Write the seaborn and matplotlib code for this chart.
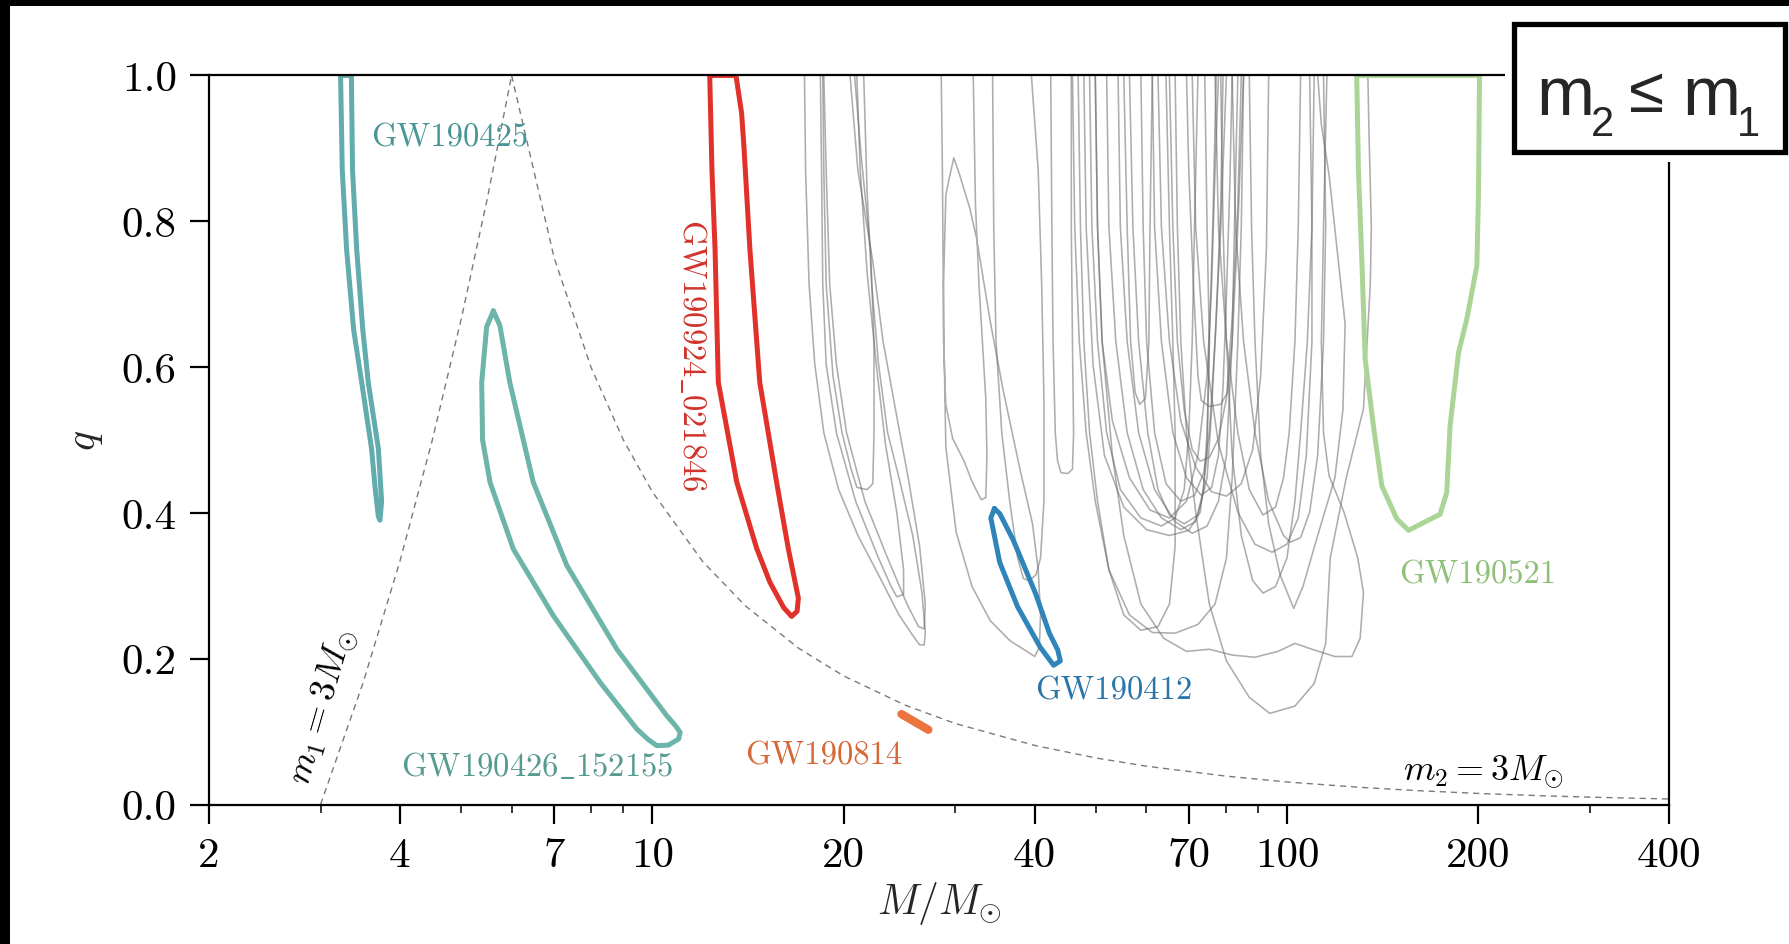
import numpy as np
import pandas as pd
import matplotlib
matplotlib.use("Agg")
import matplotlib.pyplot as plt
import seaborn as sns
from matplotlib.patches import Rectangle
from matplotlib.ticker import FixedLocator, NullFormatter

# ---------------- data (total mass M in solar masses, mass ratio q) ----------------
x_ticks = [2, 4, 7, 10, 20, 40, 70, 100, 200, 400]
x_tick_labels = ["2", "4", "7", "10", "20", "40", "70", "100", "200", "400"]
x_minor = [3, 5, 6, 8, 9, 30, 50, 60, 80, 90, 300]
y_ticks = [0.0, 0.2, 0.4, 0.6, 0.8, 1.0]
y_tick_labels = ["0.0", "0.2", "0.4", "0.6", "0.8", "1.0"]

# boundary lines m1 = 3 Msun and m2 = 3 Msun
m1_line_M = [3.0, 3.5, 4.0, 4.5, 5.0, 5.5, 6.0]
m1_line_q = [0.0, 0.1667, 0.3333, 0.5, 0.6667, 0.8333, 1.0]
m2_line_M = [6, 7, 8, 9, 10, 12, 14, 17, 20, 25, 30, 40, 50, 60, 80, 100, 130, 160, 200, 250, 300, 400]
m2_line_q = [1.0, 0.75, 0.6, 0.5, 0.4286, 0.3333, 0.2727, 0.2143, 0.1765, 0.1364, 0.1111, 0.0811,
             0.0638, 0.0526, 0.0390, 0.0309, 0.0236, 0.0191, 0.0152, 0.0121, 0.0101, 0.00756]

# highlighted events (90% contours)
gw190425_M = [3.226, 3.246, 3.297, 3.383, 3.483, 3.610, 3.659, 3.700, 3.721, 3.744, 3.700, 3.567,
              3.497, 3.420, 3.369, 3.355, 3.226]
gw190425_q = [1.0, 0.870, 0.762, 0.651, 0.579, 0.488, 0.432, 0.395, 0.390, 0.416, 0.488, 0.579,
              0.651, 0.762, 0.870, 1.0, 1.0]

gw190426_M = [5.615, 5.48, 5.383, 5.40, 5.548, 6.037, 6.98, 8.27, 9.45, 9.85, 10.16, 10.6, 11.0, 11.06,
              10.85, 10.53, 8.79, 7.33, 6.49, 5.96, 5.75, 5.615]
gw190426_q = [0.677, 0.655, 0.579, 0.50, 0.442, 0.3505, 0.259, 0.1676, 0.1036, 0.089, 0.0808, 0.0815,
              0.090, 0.099, 0.109, 0.122, 0.213, 0.328, 0.442, 0.579, 0.657, 0.677]

gw190924_M = [12.31, 12.41, 12.55, 12.70, 13.58, 14.60, 15.31, 16.10, 16.57, 16.90, 16.98, 16.37,
              15.69, 14.76, 14.24, 13.94, 13.82, 13.54, 12.31]
gw190924_q = [1.0, 0.870, 0.762, 0.579, 0.442, 0.351, 0.305, 0.270, 0.258, 0.265, 0.283, 0.351,
              0.442, 0.579, 0.762, 0.901, 0.948, 1.0, 1.0]

gw190412_M = [34.57, 34.13, 35.25, 37.62, 40.81, 42.86, 43.92, 43.50, 42.2, 40.16, 37.01, 35.25, 34.57]
gw190412_q = [0.406, 0.393, 0.332, 0.271, 0.216, 0.191, 0.197, 0.212, 0.235, 0.289, 0.363, 0.399, 0.406]

gw190814_M = [24.68, 27.21]
gw190814_q = [0.124, 0.1025]

gw190521_M = [128.7, 129.5, 131.1, 132.7, 136.7, 140.97, 148.8, 155.3, 166.0, 174.1, 178.4, 180.6,
              186.2, 191.9, 199.0, 200.2, 200.9, 128.7]
gw190521_q = [1.0, 0.870, 0.748, 0.611, 0.520, 0.437, 0.392, 0.376, 0.389, 0.398, 0.428, 0.520,
              0.620, 0.666, 0.739, 0.840, 1.0, 1.0]

# other events (grey background contours)
bg01_M = [17.36, 17.43, 17.65, 18.02, 18.62, 19.65, 21.07, 22.71, 24.46, 25.71, 26.36, 26.80, 26.91,
          26.58, 25.71, 24.46, 23.47, 22.71, 22.15, 21.79, 21.52]
bg01_q = [1.0, 0.870, 0.714, 0.604, 0.510, 0.432, 0.369, 0.315, 0.260, 0.232, 0.219, 0.219, 0.236,
          0.291, 0.369, 0.448, 0.510, 0.604, 0.714, 0.839, 1.0]
bg02_M = [18.39, 18.47, 18.55, 18.78, 19.49, 20.90, 22.71, 23.77, 24.26, 24.87, 24.87, 24.26, 23.28,
          22.52, 21.79, 21.25, 20.99]
bg02_q = [1.0, 0.870, 0.714, 0.604, 0.510, 0.416, 0.338, 0.299, 0.285, 0.288, 0.322, 0.401, 0.495,
          0.604, 0.729, 0.870, 1.0]
bg03_M = [18.55, 18.62, 18.78, 19.25, 19.89, 20.56, 20.99, 21.79, 22.24, 22.34, 22.34, 22.06, 21.34, 20.82]
bg03_q = [1.0, 0.870, 0.714, 0.588, 0.510, 0.460, 0.435, 0.432, 0.440, 0.510, 0.635, 0.761, 0.886, 1.0]
bg04_M = [18.62, 18.78, 19.02, 19.49, 20.22, 21.61, 23.47, 25.18, 26.25, 26.80, 26.91, 26.36, 25.29,
          24.16, 23.09, 22.24, 21.07, 20.48]
bg04_q = [1.0, 0.870, 0.714, 0.604, 0.510, 0.416, 0.338, 0.275, 0.244, 0.241, 0.275, 0.354, 0.448,
          0.541, 0.635, 0.745, 0.870, 1.0]
bg05_M = [28.51, 28.63, 28.75, 28.99, 30.09, 31.88, 34.07, 36.55, 38.89, 40.03, 40.70, 40.87, 40.53,
          39.70, 37.93, 35.66, 34.07, 32.42, 31.62, 30.47, 29.84, 29.35, 28.99, 28.75, 28.75, 28.99,
          29.72, 30.97, 31.88, 32.96, 33.51, 33.65, 33.51, 33.10, 32.69, 32.28, 32.02]
bg05_q = [1.0, 0.870, 0.662, 0.490, 0.374, 0.299, 0.252, 0.225, 0.210, 0.203, 0.216, 0.260, 0.322,
          0.385, 0.460, 0.570, 0.662, 0.776, 0.818, 0.864, 0.887, 0.859, 0.836, 0.714, 0.635, 0.548,
          0.502, 0.471, 0.443, 0.418, 0.421, 0.479, 0.557, 0.635, 0.714, 0.823, 1.0]
bg06_M = [34.35, 34.49, 34.78, 35.51, 36.55, 37.62, 38.41, 39.21, 40.20, 40.87, 41.38, 41.38, 41.04,
          40.53, 39.54]
bg06_q = [1.0, 0.792, 0.635, 0.510, 0.416, 0.338, 0.310, 0.307, 0.315, 0.338, 0.416, 0.557, 0.714,
          0.870, 1.0]
bg07_M = [42.41, 42.59, 42.77, 43.12, 43.48, 44.03, 45.13, 45.89, 46.08, 45.89, 45.70, 45.70]
bg07_q = [1.0, 0.792, 0.635, 0.510, 0.471, 0.455, 0.454, 0.460, 0.510, 0.635, 0.792, 1.0]
bg08_M = [46.85, 47.24, 47.83, 48.83, 50.26, 52.38, 55.28, 58.82, 62.59, 65.24, 66.60, 66.60, 66.05,
          65.24, 64.43]
bg08_q = [1.0, 0.792, 0.635, 0.510, 0.416, 0.322, 0.260, 0.239, 0.244, 0.275, 0.354, 0.510, 0.635,
          0.792, 1.0]
bg09_M = [48.83, 49.24, 50.26, 51.95, 54.60, 58.82, 63.37, 66.60, 68.84, 69.98, 70.86, 71.45, 72.35]
bg09_q = [1.0, 0.792, 0.635, 0.510, 0.432, 0.393, 0.382, 0.393, 0.432, 0.510, 0.635, 0.792, 1.0]
bg10_M = [49.85, 50.26, 51.10, 53.04, 56.44, 60.80, 65.24, 69.41, 72.35, 74.78, 76.03, 76.98, 77.94]
bg10_q = [1.0, 0.792, 0.635, 0.526, 0.448, 0.404, 0.393, 0.416, 0.479, 0.588, 0.714, 0.870, 1.0]
bg11_M = [55.28, 55.97, 56.67, 57.62, 58.58, 59.80, 60.55, 60.80, 61.31]
bg11_q = [1.0, 0.792, 0.635, 0.565, 0.549, 0.557, 0.635, 0.792, 1.0]
bg12_M = [51.95, 52.38, 53.71, 55.97, 59.31, 63.37, 67.99, 71.75, 73.86, 74.78, 75.40, 76.34, 77.30]
bg12_q = [1.0, 0.792, 0.635, 0.510, 0.432, 0.393, 0.377, 0.388, 0.432, 0.510, 0.635, 0.792, 1.0]
bg13_M = [58.82, 59.31, 60.05, 61.82, 64.43, 67.99, 71.45, 73.86, 75.40, 76.98, 78.59, 80.23]
bg13_q = [1.0, 0.792, 0.635, 0.510, 0.440, 0.416, 0.424, 0.455, 0.510, 0.635, 0.792, 1.0]
bg14_M = [61.31, 61.82, 63.37, 66.05, 69.41, 73.25, 76.03, 77.94, 79.24, 80.23, 81.24, 81.91]
bg14_q = [1.0, 0.792, 0.635, 0.510, 0.448, 0.424, 0.435, 0.479, 0.573, 0.698, 0.854, 1.0]
bg15_M = [45.89, 46.27, 47.04, 48.23, 49.85, 52.38, 56.44, 61.31, 66.60, 72.35, 76.98, 80.23, 81.91,
          83.62, 84.67, 85.37]
bg15_q = [1.0, 0.792, 0.635, 0.510, 0.416, 0.322, 0.260, 0.236, 0.235, 0.247, 0.275, 0.338, 0.448,
          0.635, 0.792, 1.0]
bg16_M = [65.24, 66.05, 67.15, 68.84, 70.86, 72.95, 75.40, 77.94, 80.23, 81.91, 83.62, 84.67]
bg16_q = [1.0, 0.792, 0.635, 0.541, 0.487, 0.471, 0.476, 0.502, 0.557, 0.667, 0.823, 1.0]
bg17_M = [69.41, 69.98, 71.15, 72.35, 73.25, 75.40, 78.59, 80.56, 81.91, 83.62, 85.37]
bg17_q = [1.0, 0.870, 0.714, 0.588, 0.554, 0.546, 0.549, 0.565, 0.635, 0.792, 1.0]
bg18_M = [66.60, 67.15, 67.99, 69.41, 71.75, 75.40, 80.23, 87.16, 93.90, 102.85, 110.3, 115.0, 116.9,
          123.9, 131.9, 135.2, 135.7, 134.6, 134.0]
bg18_q = [1.0, 0.792, 0.635, 0.510, 0.401, 0.275, 0.197, 0.147, 0.125, 0.135, 0.166, 0.221, 0.338,
          0.448, 0.543, 0.714, 0.793, 0.917, 1.0]
bg19_M = [49.85, 50.26, 51.10, 53.04, 55.28, 58.82, 63.90, 69.41, 75.40, 81.91, 88.98, 96.66, 102.85,
          109.4, 118.9, 126.5, 130.3, 131.9, 129.2, 122.9, 116.4, 114.1, 113.2, 114.1, 115.5]
bg19_q = [1.0, 0.792, 0.635, 0.479, 0.369, 0.275, 0.228, 0.210, 0.213, 0.205, 0.202, 0.210, 0.221,
          0.213, 0.203, 0.203, 0.228, 0.291, 0.338, 0.401, 0.451, 0.510, 0.635, 0.792, 1.0]
bg20_M = [76.98, 77.94, 80.23, 83.62, 87.16, 91.60, 95.87, 98.68, 100.74, 102.85, 104.1, 105.0]
bg20_q = [1.0, 0.792, 0.635, 0.510, 0.432, 0.397, 0.408, 0.448, 0.510, 0.635, 0.792, 1.0]
bg21_M = [81.91, 82.93, 85.37, 88.98, 93.51, 98.68, 101.2, 105.0, 108.5, 111.7, 114.1, 115.0, 114.1]
bg21_q = [1.0, 0.792, 0.635, 0.510, 0.416, 0.369, 0.360, 0.366, 0.401, 0.479, 0.635, 0.792, 1.0]
bg22_M = [87.16, 87.88, 88.98, 90.84, 93.51, 97.46, 102.4, 105.9, 111.7, 118.9, 122.4, 123.4, 116.4,
          113.2, 111.7]
bg22_q = [1.0, 0.792, 0.635, 0.479, 0.385, 0.315, 0.269, 0.299, 0.369, 0.448, 0.541, 0.659, 0.864,
          0.933, 1.0]
bg23_M = [78.59, 79.24, 80.23, 81.91, 84.67, 88.25, 91.60, 95.87, 99.91, 102.85, 105.0, 107.6, 109.4, 110.3]
bg23_q = [1.0, 0.792, 0.635, 0.479, 0.369, 0.307, 0.290, 0.299, 0.338, 0.416, 0.510, 0.635, 0.792, 1.0]
bg24_M = [56.44, 57.14, 58.34, 60.30, 62.59, 65.24, 68.84, 72.35, 74.78, 76.03, 77.30, 78.59, 79.24]
bg24_q = [1.0, 0.792, 0.635, 0.510, 0.432, 0.397, 0.385, 0.397, 0.448, 0.541, 0.667, 0.823, 1.0]
bg25_M = [47.83, 48.23, 49.44, 51.53, 55.28, 60.05, 65.24, 69.98, 72.95, 74.78, 75.40, 74.78, 74.17]
bg25_q = [1.0, 0.792, 0.604, 0.479, 0.408, 0.377, 0.369, 0.376, 0.401, 0.479, 0.635, 0.792, 1.0]
bg26_M = [54.15, 54.60, 55.97, 58.34, 61.82, 66.60, 70.86, 74.78, 77.94, 80.23, 81.91, 82.59, 83.62]
bg26_q = [1.0, 0.792, 0.635, 0.510, 0.432, 0.388, 0.372, 0.382, 0.416, 0.479, 0.635, 0.792, 1.0]
bg27_M = [62.59, 63.37, 65.24, 67.99, 71.75, 76.03, 80.23, 84.67, 88.25, 90.84, 92.74, 93.51]
bg27_q = [1.0, 0.792, 0.635, 0.526, 0.463, 0.429, 0.423, 0.440, 0.487, 0.588, 0.761, 1.0]
bg28_M = [70.86, 71.75, 73.86, 77.94, 83.62, 88.98, 94.68, 99.91, 104.1, 107.2, 109.4, 109.4, 108.5]
bg28_q = [1.0, 0.792, 0.635, 0.495, 0.401, 0.357, 0.346, 0.357, 0.393, 0.479, 0.635, 0.792, 1.0]

background = [(bg01_M, bg01_q), (bg02_M, bg02_q), (bg03_M, bg03_q), (bg04_M, bg04_q), (bg05_M, bg05_q),
              (bg06_M, bg06_q), (bg07_M, bg07_q), (bg08_M, bg08_q), (bg09_M, bg09_q), (bg10_M, bg10_q),
              (bg11_M, bg11_q), (bg12_M, bg12_q), (bg13_M, bg13_q), (bg14_M, bg14_q), (bg15_M, bg15_q),
              (bg16_M, bg16_q), (bg17_M, bg17_q), (bg18_M, bg18_q), (bg19_M, bg19_q), (bg20_M, bg20_q),
              (bg21_M, bg21_q), (bg22_M, bg22_q), (bg23_M, bg23_q), (bg24_M, bg24_q), (bg25_M, bg25_q),
              (bg26_M, bg26_q), (bg27_M, bg27_q), (bg28_M, bg28_q)]

# labels: text, anchor M, anchor q
label_names = ["GW190425", r"$\mathrm{GW190426\_152155}$", r"$\mathrm{GW190924\_021846}$",
               "GW190814", "GW190412", "GW190521"]
label_M = [4.80, 6.59, 11.57, 18.62, 53.3, 199.6]
label_q = [0.9155, 0.053, 0.617, 0.0673, 0.1565, 0.316]

# ---------------- style ----------------
sns.set_theme(style="ticks")
plt.rcParams.update({
    "font.family": ["cmr10", "DejaVu Serif"],
    "mathtext.fontset": "cm",
    "axes.formatter.use_mathtext": True,
    "axes.unicode_minus": False,
})

c_425 = "#62acae"
c_426 = "#6db4aa"
c_924 = "#e0322b"
c_814 = "#eb7340"
c_412 = "#2f84ba"
c_521 = "#abd596"
t_425 = "#4a9597"
t_426 = "#559b91"
t_924 = "#cf342b"
t_814 = "#d6683a"
t_412 = "#2a75aa"
t_521 = "#8fc078"

fig = plt.figure(figsize=(17.89, 9.45), dpi=100)
ax = fig.add_axes([0.1167, 0.1476, 0.8164, 0.7715])
ax.set_xscale("log")

# grey contours
rows = []
for i, (mm, qq) in enumerate(background):
    for m, q in zip(mm, qq):
        rows.append((i, m, q))
bg = pd.DataFrame(rows, columns=["contour", "M", "q"])
sns.lineplot(data=bg, x="M", y="q", units="contour", estimator=None, sort=False,
             color="#6a6a6a", alpha=0.55, lw=1.15, ax=ax, zorder=2)

# boundary lines
sns.lineplot(x=m1_line_M, y=m1_line_q, sort=False, estimator=None, color="#7a7a7a", lw=1.0,
             ax=ax, zorder=1).lines[-1].set_dashes((4.5, 3.5))
sns.lineplot(x=m2_line_M, y=m2_line_q, sort=False, estimator=None, color="#7a7a7a", lw=1.0,
             ax=ax, zorder=1).lines[-1].set_dashes((4.5, 3.5))

# highlighted contours
for mm, qq, col in [(gw190425_M, gw190425_q, c_425),
                    (gw190426_M, gw190426_q, c_426),
                    (gw190924_M, gw190924_q, c_924),
                    (gw190412_M, gw190412_q, c_412),
                    (gw190521_M, gw190521_q, c_521)]:
    ln = sns.lineplot(x=mm, y=qq, sort=False, estimator=None, color=col, lw=3.6, ax=ax, zorder=4).lines[-1]
    ln.set_solid_joinstyle("round")
l814 = sns.lineplot(x=gw190814_M, y=gw190814_q, sort=False, estimator=None, color=c_814, lw=6.0,
                    ax=ax, zorder=4).lines[-1]
l814.set_solid_capstyle("round")

# event labels
lab_style = dict(fontsize=23.5, ha="center", va="center", zorder=5)
ax.text(label_M[0], label_q[0], label_names[0], color=t_425, **lab_style)
ax.text(label_M[1], label_q[1], label_names[1], color=t_426, **lab_style)
ax.text(label_M[2], label_q[2], label_names[2], color=t_924, rotation=-90, **lab_style)
ax.text(label_M[3], label_q[3], label_names[3], color=t_814, **lab_style)
ax.text(label_M[4], label_q[4], label_names[4], color=t_412, **lab_style)
ax.text(label_M[5], label_q[5], label_names[5], color=t_521, **lab_style)

ax.text(3.02, 0.135, r"$m_1 = 3M_{\odot}$", fontsize=26, rotation=74, ha="center", va="center",
        color="black", zorder=5)
ax.text(203.8, 0.046, r"$m_2 = 3M_{\odot}$", fontsize=26, ha="center", va="center",
        color="black", zorder=5)

# axes
ax.set_xlim(2, 400)
ax.set_ylim(0, 1)
ax.xaxis.set_major_locator(FixedLocator(x_ticks))
ax.set_xticklabels(x_tick_labels)
ax.xaxis.set_minor_locator(FixedLocator(x_minor))
ax.xaxis.set_minor_formatter(NullFormatter())
ax.set_yticks(y_ticks)
ax.set_yticklabels(y_tick_labels)
ax.tick_params(axis="both", which="major", direction="out", length=14, width=1.6,
               labelsize=31, pad=9, colors="black")
ax.tick_params(axis="x", which="minor", direction="out", length=6, width=1.3)
ax.tick_params(top=False, right=False, which="both")
for s in ax.spines.values():
    s.set_visible(True)
    s.set_linewidth(1.6)
    s.set_color("black")
    s.set_zorder(6)
ax.set_xlabel(r"$M/M_{\odot}$", fontsize=30, labelpad=4)
ax.set_ylabel(r"$q$", fontsize=30, labelpad=12)
ax.grid(False)

# black frame strips (top and left) of the screenshot
fig.add_artist(Rectangle((0, 1 - 7 / 945), 1, 7 / 945, transform=fig.transFigure,
                         facecolor="black", edgecolor="none", zorder=20))
fig.add_artist(Rectangle((0, 0), 10 / 1789, 1, transform=fig.transFigure,
                         facecolor="black", edgecolor="none", zorder=20))

# pasted annotation box  m2 <= m1
fig.add_artist(Rectangle((1505 / 1789, 1 - 163 / 945), 284 / 1789, 147 / 945, transform=fig.transFigure,
                         facecolor="white", edgecolor="none", zorder=20))
fig.add_artist(Rectangle((1514 / 1789, 1 - 153 / 945), 271 / 1789, 128 / 945, transform=fig.transFigure,
                         facecolor="white", edgecolor="black", lw=3.8, zorder=21))
sans = ["Liberation Sans", "DejaVu Sans"]
fig.text(1536 / 1789, 1 - 115 / 945, "m", fontsize=50, family=sans, ha="left", va="baseline", zorder=22)
fig.text(1591 / 1789, 1 - 136 / 945, "2", fontsize=30, family=sans, ha="left", va="baseline", zorder=22)
fig.text(1628 / 1789, 1 - 112 / 945, "\u2264", fontsize=46, family=sans, ha="left", va="baseline", zorder=22)
fig.text(1682 / 1789, 1 - 115 / 945, "m", fontsize=50, family=sans, ha="left", va="baseline", zorder=22)
fig.text(1737 / 1789, 1 - 136 / 945, "1", fontsize=30, family=sans, ha="left", va="baseline", zorder=22)

fig.savefig("out.png", dpi=100, facecolor="white")
